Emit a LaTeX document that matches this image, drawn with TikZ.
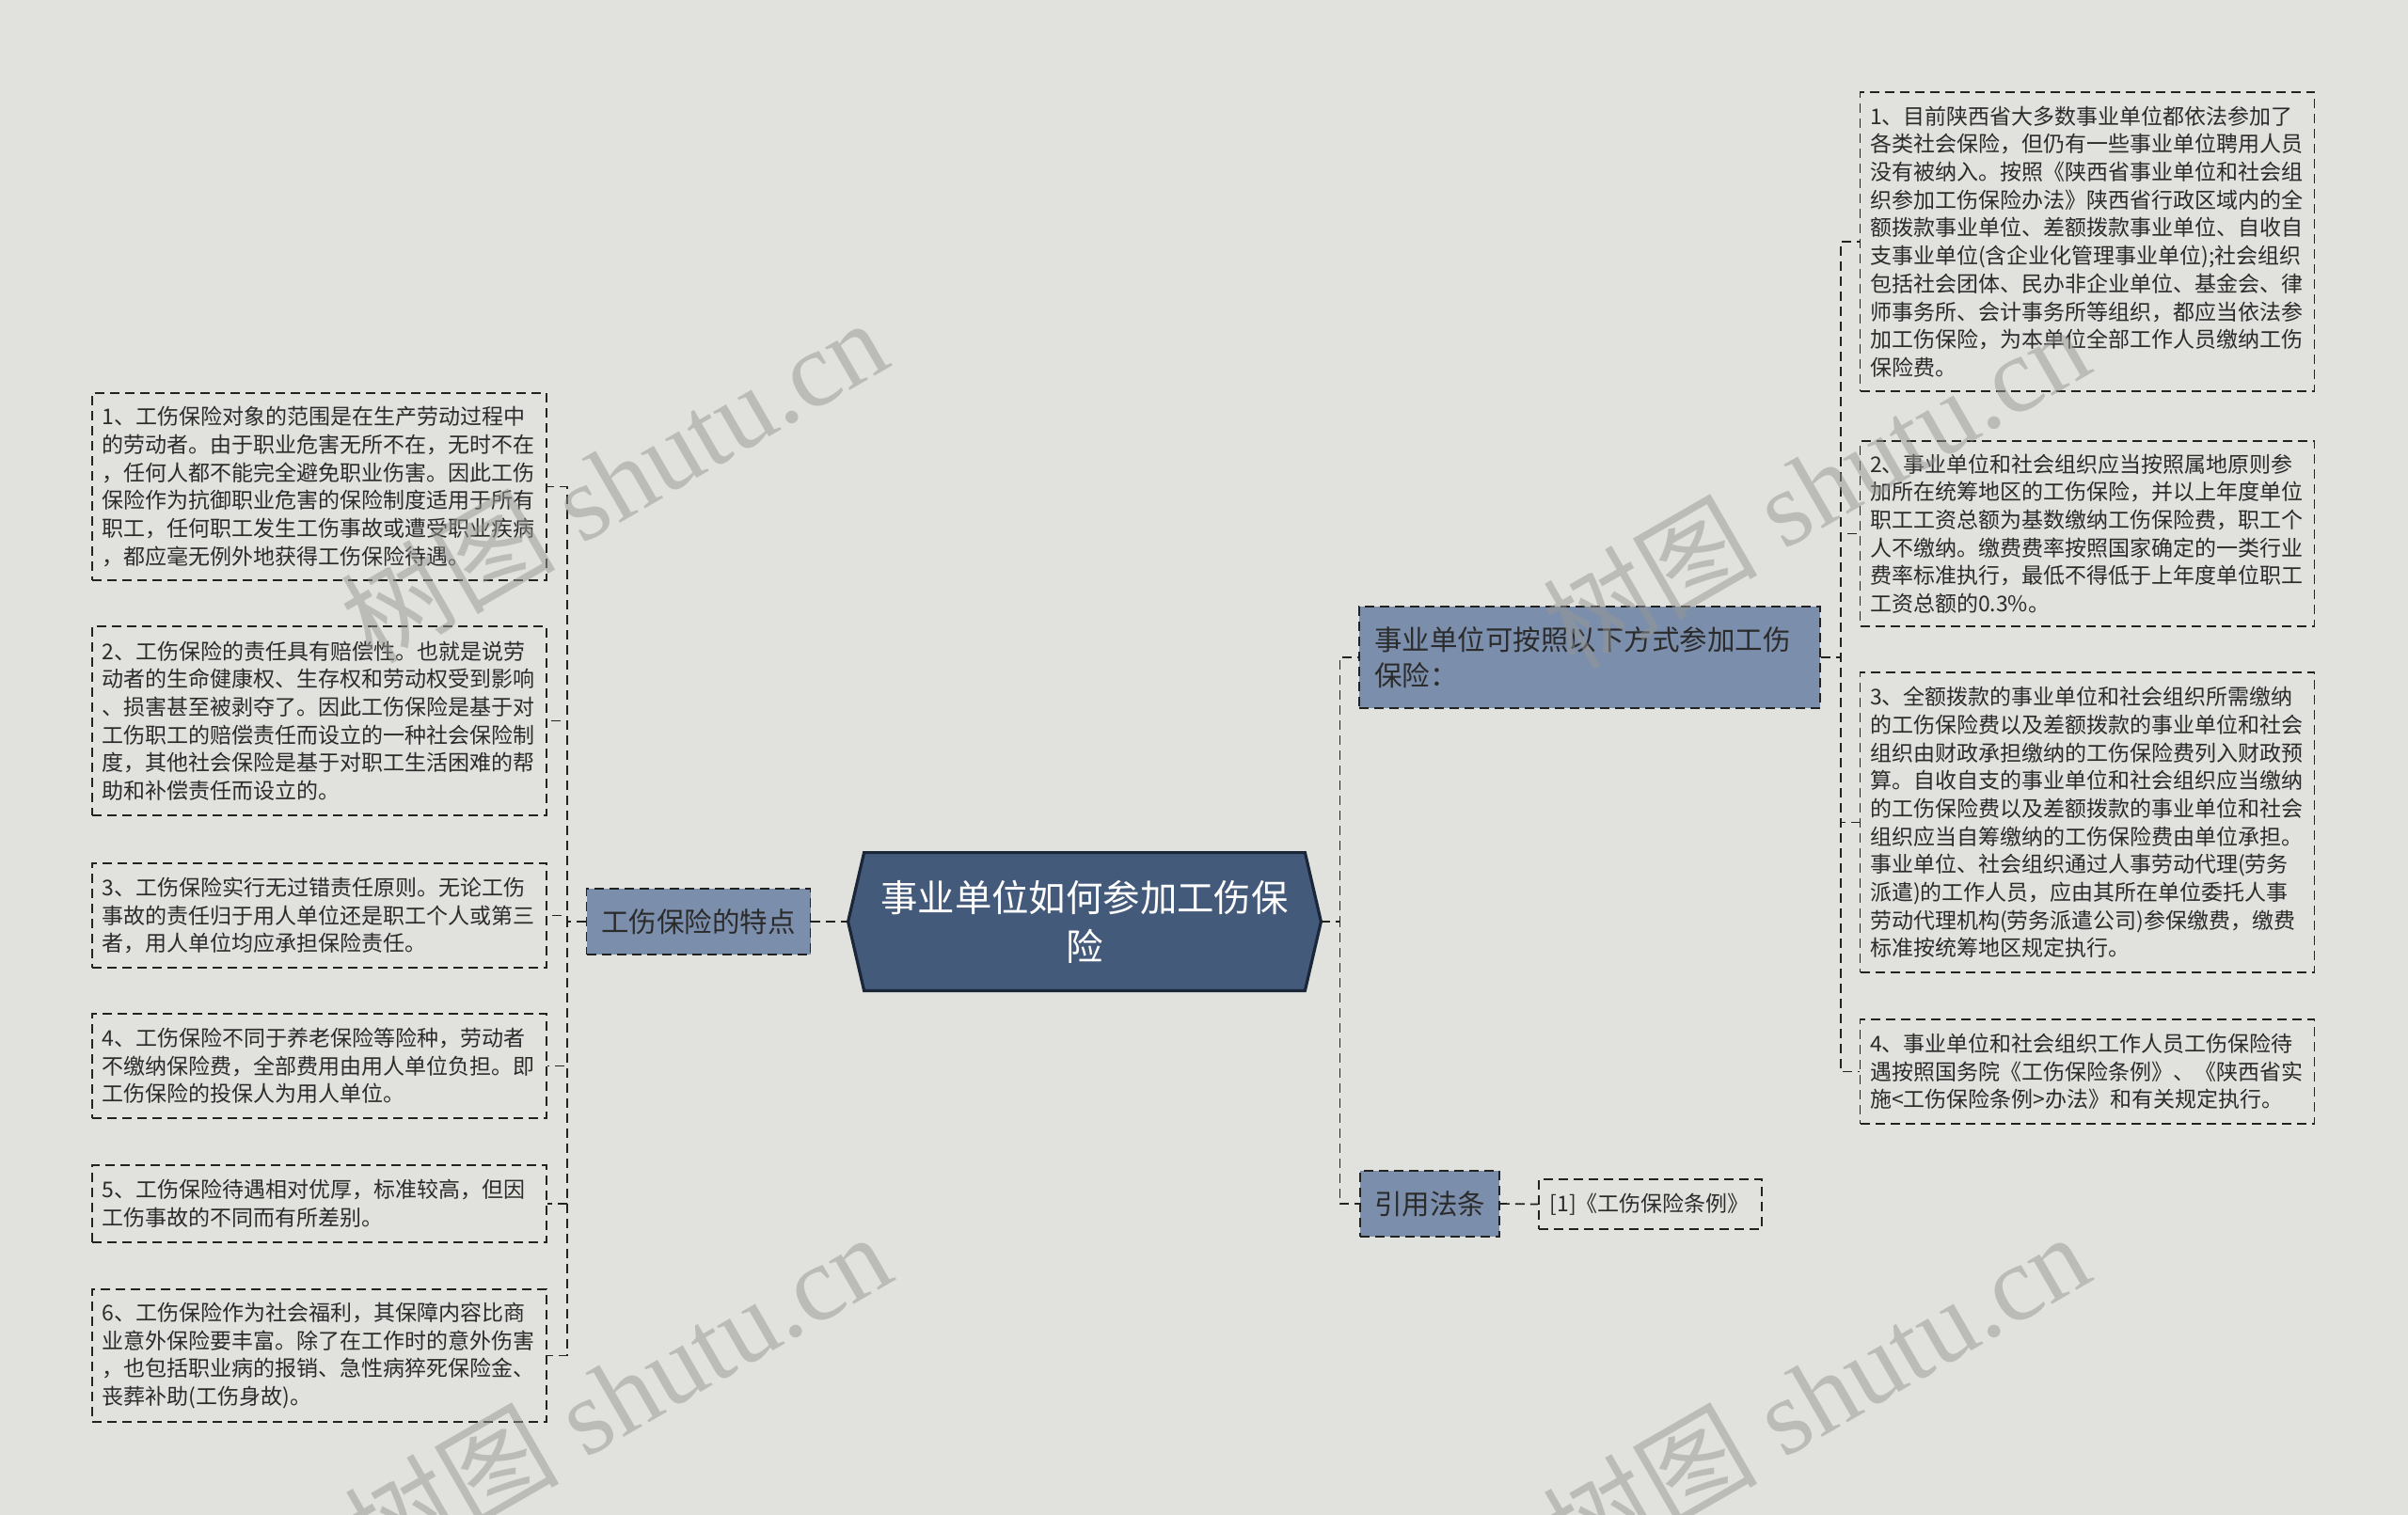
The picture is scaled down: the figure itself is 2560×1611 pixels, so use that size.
\documentclass[tikz,border=0pt]{standalone}
\usepackage{fontspec}
\newfontfamily\cjk{Noto Sans CJK SC}
\newfontfamily\wmserif{Liberation Serif}
\definecolor{bgc}{HTML}{E1E2DE}
\definecolor{rootfill}{HTML}{435A7A}
\definecolor{rootline}{HTML}{1B2738}
\definecolor{brfill}{HTML}{7B8EAC}
\definecolor{txt}{HTML}{2B2B2B}
\definecolor{linec}{HTML}{222222}
\definecolor{wmc}{HTML}{969894}
\begin{document}
\begin{tikzpicture}[x=0.5pt,y=-0.5pt,
  leaf/.style={draw=linec, line width=0.85pt, dash pattern=on 5pt off 3pt,
    text=txt, font=\cjk\fontsize{11.5pt}{14.85pt}\selectfont, align=left,
    text width=231pt, inner xsep=5.25pt, inner ysep=0pt, minimum height=#1},
  branch/.style={draw=linec, line width=0.85pt, dash pattern=on 5pt off 3pt,
    fill=brfill, text=txt, font=\cjk\fontsize{14.75pt}{18.75pt}\selectfont,
    inner sep=0pt},
  conn/.style={draw=linec, line width=0.85pt, dash pattern=on 5pt off 3pt},
  rootbox/.style={minimum width=251pt, minimum height=73pt, inner sep=0pt},
  rootshape/.style={fill=rootfill, draw=rootline, line width=1.6pt, line join=miter},
  roottext/.style={text=white, align=center, font=\cjk\fontsize{19.7pt}{26pt}\selectfont, inner sep=0pt},
  wm/.style={rotate=30, text=wmc, opacity=0.5, text opacity=0.5, inner sep=0pt,
    font=\wmserif\fontsize{57pt}{57pt}\selectfont}
]
\fill[bgc] (0,0) rectangle (2560,1611);
\useasboundingbox (0,0) rectangle (2560,1611);

% root
\node[rootbox] (root) at (1153,980) {};
\filldraw[rootshape] (root.west) -- ([xshift=8.5pt]root.north west) -- ([xshift=-8.5pt]root.north east)
  -- (root.east) -- ([xshift=-8.5pt]root.south east) -- ([xshift=8.5pt]root.south west) -- cycle;
\node[roottext] (roottxt) at (root.center) {事业单位如何参加工伤保\\险};

% branches
\node[branch, minimum width=119pt, minimum height=35pt] (lb) at (742.5,980) {工伤保险的特点};
\node[branch, minimum width=245pt, minimum height=54pt, align=left, text width=229pt, inner xsep=8pt] (rb1) at (1690,699) {事业单位可按照以下方式参加工伤\\保险：};
\node[branch, minimum width=74pt, minimum height=35pt] (rb2) at (1520,1280) {引用法条};

% left leaves
\node[leaf=99.5pt] (L1) at (339.5,517.5) {1、工伤保险对象的范围是在生产劳动过程中\\的劳动者。由于职业危害无所不在，无时不在\\，任何人都不能完全避免职业伤害。因此工伤\\保险作为抗御职业危害的保险制度适用于所有\\职工，任何职工发生工伤事故或遭受职业疾病\\，都应毫无例外地获得工伤保险待遇。};
\node[leaf=100.5pt] (L2) at (339.5,766.5) {2、工伤保险的责任具有赔偿性。也就是说劳\\动者的生命健康权、生存权和劳动权受到影响\\、损害甚至被剥夺了。因此工伤保险是基于对\\工伤职工的赔偿责任而设立的一种社会保险制\\度，其他社会保险是基于对职工生活困难的帮\\助和补偿责任而设立的。};
\node[leaf=55.5pt] (L3) at (339.5,973.5) {3、工伤保险实行无过错责任原则。无论工伤\\事故的责任归于用人单位还是职工个人或第三\\者，用人单位均应承担保险责任。};
\node[leaf=55.5pt] (L4) at (339.5,1133.5) {4、工伤保险不同于养老保险等险种，劳动者\\不缴纳保险费，全部费用由用人单位负担。即\\工伤保险的投保人为用人单位。};
\node[leaf=41pt] (L5) at (339.5,1280) {5、工伤保险待遇相对优厚，标准较高，但因\\工伤事故的不同而有所差别。};
\node[leaf=70.5pt] (L6) at (339.5,1441.5) {6、工伤保险作为社会福利，其保障内容比商\\业意外保险要丰富。除了在工作时的意外伤害\\，也包括职业病的报销、急性病猝死保险金、\\丧葬补助(工伤身故)。};

% right leaves
\node[leaf=159pt] (R1) at (2219,257) {1、目前陕西省大多数事业单位都依法参加了\\各类社会保险，但仍有一些事业单位聘用人员\\没有被纳入。按照《陕西省事业单位和社会组\\织参加工伤保险办法》陕西省行政区域内的全\\额拨款事业单位、差额拨款事业单位、自收自\\支事业单位(含企业化管理事业单位);社会组织\\包括社会团体、民办非企业单位、基金会、律\\师事务所、会计事务所等组织，都应当依法参\\加工伤保险，为本单位全部工作人员缴纳工伤\\保险费。};
\node[leaf=98.5pt] (R2) at (2219,567.5) {2、事业单位和社会组织应当按照属地原则参\\加所在统筹地区的工伤保险，并以上年度单位\\职工工资总额为基数缴纳工伤保险费，职工个\\人不缴纳。缴费费率按照国家确定的一类行业\\费率标准执行，最低不得低于上年度单位职工\\工资总额的0.3\%。};
\node[leaf=159.5pt] (R3) at (2219,874.5) {3、全额拨款的事业单位和社会组织所需缴纳\\的工伤保险费以及差额拨款的事业单位和社会\\组织由财政承担缴纳的工伤保险费列入财政预\\算。自收自支的事业单位和社会组织应当缴纳\\的工伤保险费以及差额拨款的事业单位和社会\\组织应当自筹缴纳的工伤保险费由单位承担。\\事业单位、社会组织通过人事劳动代理(劳务\\派遣)的工作人员，应由其所在单位委托人事\\劳动代理机构(劳务派遣公司)参保缴费，缴费\\标准按统筹地区规定执行。};
\node[leaf=55.5pt] (R4) at (2219,1139.5) {4、事业单位和社会组织工作人员工伤保险待\\遇按照国务院《工伤保险条例》、《陕西省实\\施<工伤保险条例>办法》和有关规定执行。};

\node[leaf=26.5pt, text width=107pt, inner xsep=5.75pt] (ref) at (1754.5,1280.5) {[1]《工伤保险条例》};

% connectors
\draw[conn] (lb.east) -- (root.west);
\foreach \n in {L1,L2,L3,L4,L5,L6}{
  \draw[conn] (lb.west) -- ++(-20,0) |- (\n.east);
}
\draw[conn] (root.east) -- ++(20,0) |- (rb1.west);
\draw[conn] (root.east) -- ++(20,0) |- (rb2.west);
\foreach \n in {R1,R2,R3,R4}{
  \draw[conn] (rb1.east) -- ++(21,0) |- (\n.west);
}
\draw[conn] (rb2.east) -- (ref.west);

% watermarks
\node[wm] (wm1) at (652,510) {{\cjk 树图} shutu.cn};
\node[wm] (wm2) at (1930,516) {{\cjk 树图} shutu.cn};
\node[wm] (wm3) at (656,1482) {{\cjk 树图} shutu.cn};
\node[wm] (wm4) at (1930,1482) {{\cjk 树图} shutu.cn};
\end{tikzpicture}
\end{document}
